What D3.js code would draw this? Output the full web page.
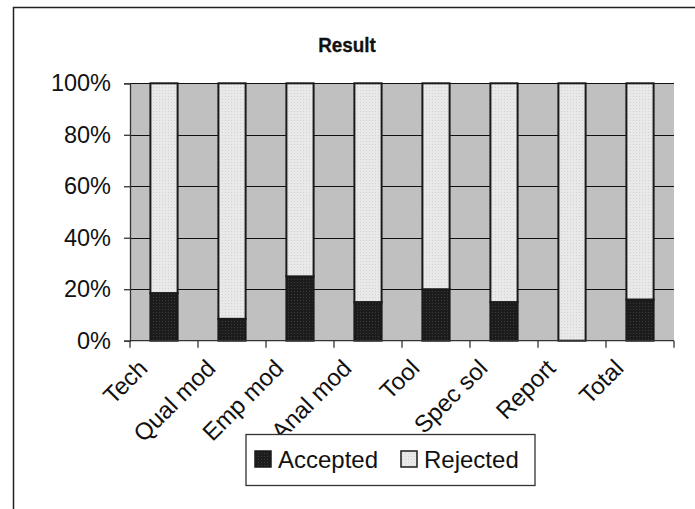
<!DOCTYPE html>
<html>
<head>
<meta charset="utf-8">
<script src="https://cdn.jsdelivr.net/npm/d3@7"></script>
<style>
  html, body { margin: 0; padding: 0; background: #fff; }
  svg { display: block; }
  text { font-family: "Liberation Sans", Arial, sans-serif; fill: #111; }
</style>
</head>
<body>
<svg id="chart" width="695" height="509"></svg>
<script>
// Share of submissions per category, in percent
const categories = ["Tech", "Qual mod", "Emp mod", "Anal mod", "Tool", "Spec sol", "Report", "Total"];
const accepted = [18.5, 8.5, 25, 15, 20, 15, 0, 16];
const rejected = [81.5, 91.5, 75, 85, 80, 85, 100, 84];
const seriesNames = ["Accepted", "Rejected"];
const yTicks = [0, 0.2, 0.4, 0.6, 0.8, 1.0];

const svg = d3.select("#chart");
const W = 695, H = 509;

// Hatched fills for the two series
const defs = svg.append("defs");
const pDark = defs.append("pattern").attr("id", "pAcc")
  .attr("width", 3).attr("height", 3).attr("patternUnits", "userSpaceOnUse");
pDark.append("rect").attr("width", 3).attr("height", 3).attr("fill", "#1c1c1c");
pDark.append("rect").attr("width", 1).attr("height", 1).attr("fill", "#3a3a3a");
const pLight = defs.append("pattern").attr("id", "pRej")
  .attr("width", 3).attr("height", 3).attr("patternUnits", "userSpaceOnUse");
pLight.append("rect").attr("width", 3).attr("height", 3).attr("fill", "#e9e9e9");
pLight.append("rect").attr("width", 1).attr("height", 1).attr("fill", "#d2d2d2");

// Chart area frame (left and top edges)
svg.append("path")
  .attr("d", `M13.5,${H} L13.5,7.5 L${W},7.5`)
  .attr("fill", "none").attr("stroke", "#222").attr("stroke-width", 1.5);

// Title, slightly condensed
svg.append("text")
  .attr("transform", "translate(347,52) scale(0.9,1)")
  .attr("text-anchor", "middle")
  .attr("font-size", 21).attr("font-weight", "bold")
  .attr("stroke", "#111").attr("stroke-width", 0.3)
  .text("Result");

const plot = { left: 130, right: 674, top: 83.3, bottom: 340.7 };

const x = d3.scaleBand().domain(categories)
  .range([plot.left, plot.right]).paddingInner(0.6).paddingOuter(0.3);
const y = d3.scaleLinear().domain([0, 1]).range([plot.bottom, plot.top]);

// Plot background
svg.append("rect")
  .attr("x", plot.left).attr("y", plot.top)
  .attr("width", plot.right - plot.left).attr("height", plot.bottom - plot.top)
  .attr("fill", "#c0c0c0");

// Horizontal gridlines
svg.append("g").selectAll("line").data(yTicks.filter(d => d > 0)).join("line")
  .attr("x1", plot.left).attr("x2", plot.right)
  .attr("y1", d => Math.round(y(d)) + 0.5).attr("y2", d => Math.round(y(d)) + 0.5)
  .attr("stroke", "#111").attr("stroke-width", 1);

// Stacked bars
const stackData = categories.map((c, i) => ({ cat: c, Accepted: accepted[i] / 100, Rejected: rejected[i] / 100 }));
const stacked = d3.stack().keys(seriesNames)(stackData);
const fills = { Accepted: "url(#pAcc)", Rejected: "url(#pRej)" };

svg.append("g").selectAll("g").data(stacked).join("g")
  .attr("fill", d => fills[d.key])
  .selectAll("rect").data(d => d.filter(s => s[1] - s[0] > 0)).join("rect")
  .attr("x", d => x(d.data.cat))
  .attr("width", x.bandwidth())
  .attr("y", d => y(d[1]))
  .attr("height", d => y(d[0]) - y(d[1]))
  .attr("stroke", "#1a1a1a").attr("stroke-width", 2);

// Y axis
const yAxis = svg.append("g")
  .attr("transform", `translate(${plot.left},0)`)
  .call(d3.axisLeft(y).tickValues(yTicks).tickFormat(d3.format(".0%")).tickSizeOuter(0).tickSize(6).tickPadding(13));
yAxis.select(".domain").attr("stroke", "#333").attr("stroke-width", 1.3);
yAxis.selectAll(".tick line").attr("stroke", "#333").attr("stroke-width", 1.3);
yAxis.selectAll("text").attr("font-size", 23.5).attr("fill", "#111")
  .attr("font-family", "Liberation Sans, Arial, sans-serif");

// X axis with category dividers
const xEdges = d3.range(categories.length + 1).map(i => plot.left + (plot.right - plot.left) * i / categories.length);
const xAxis = svg.append("g");
xAxis.append("line")
  .attr("x1", plot.left).attr("x2", plot.right)
  .attr("y1", plot.bottom).attr("y2", plot.bottom)
  .attr("stroke", "#333").attr("stroke-width", 1.3);
xAxis.selectAll(".edge").data(xEdges).join("line")
  .attr("class", "edge")
  .attr("x1", d => d).attr("x2", d => d)
  .attr("y1", plot.bottom).attr("y2", plot.bottom + 7)
  .attr("stroke", "#333").attr("stroke-width", 1.3);

// Rotated category labels
xAxis.selectAll("text").data(categories).join("text")
  .attr("transform", d => `translate(${x(d) + x.bandwidth() / 2 - 15},${plot.bottom + 29}) rotate(-45)`)
  .attr("text-anchor", "end")
  .attr("font-size", 24)
  .text(d => d);

// Legend
const lg = svg.append("g");
lg.append("rect")
  .attr("x", 246).attr("y", 434.5).attr("width", 289).attr("height", 51)
  .attr("fill", "#fff").attr("stroke", "#333").attr("stroke-width", 1.3);
const items = [{ name: "Accepted", x: 255 }, { name: "Rejected", x: 401 }];
lg.selectAll("rect.sw").data(items).join("rect")
  .attr("class", "sw")
  .attr("x", d => d.x).attr("y", 451).attr("width", 16).attr("height", 16)
  .attr("fill", d => fills[d.name]).attr("stroke", "#1a1a1a").attr("stroke-width", 1.5);
lg.selectAll("text").data(items).join("text")
  .attr("x", d => d.x + 23).attr("y", 468)
  .attr("font-size", 24)
  .text(d => d.name);
</script>
</body>
</html>
